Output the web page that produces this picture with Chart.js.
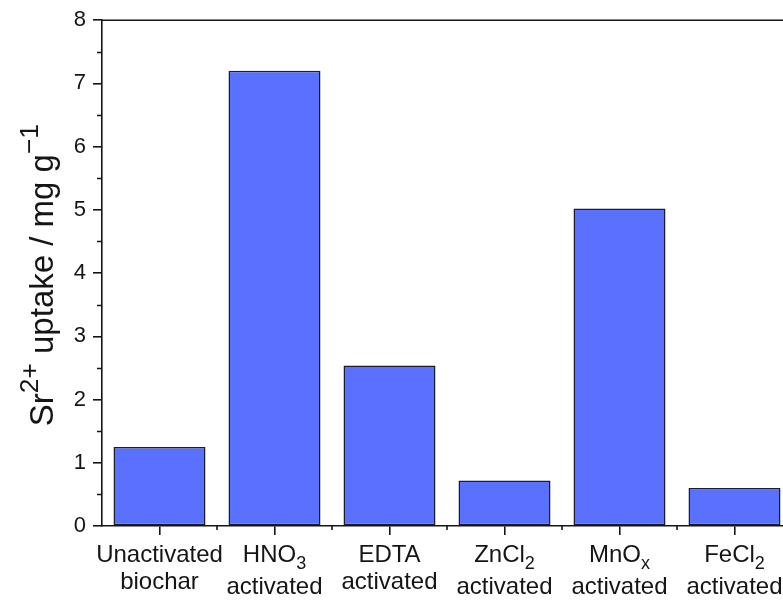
<!DOCTYPE html>
<html>
<head>
<meta charset="utf-8">
<script src="https://cdn.jsdelivr.net/npm/chart.js@4.4.1/dist/chart.umd.min.js"></script>
<style>
  html, body { margin: 0; padding: 0; background: #fff; overflow: hidden; }
  #wrap { width: 800px; height: 604px; }
</style>
</head>
<body>
<div id="wrap"><canvas id="uptakeChart" width="800" height="604"></canvas></div>
<script>
// _{..} = indice, ^{..} = exposant, \n = retour à la ligne
const categories = [
    'Unactivated\nbiochar',
    'HNO_{3}\nactivated',
    'EDTA\nactivated',
    'ZnCl_{2}\nactivated',
    'MnO_{x}\nactivated',
    'FeCl_{2}\nactivated'
];
const uptake = [1.25, 7.2, 2.54, 0.72, 5.02, 0.6];
const yMin = 0;
const yMax = 8;
const yStep = 1;
const yMinorStep = 0.5;
const yTitle = 'Sr^{2+} uptake / mg g^{\u22121}';

const ink = '#151515';
const barColor = '#5a70ff';
const fontFamily = '"Liberation Sans", Arial, sans-serif';

/**
 * Découpe une chaîne en morceaux normaux / indices / exposants
 */
function parseRich(str) {
    const parts = [];
    const re = /([_^])\{([^}]*)\}/g;
    let last = 0, m;
    while ((m = re.exec(str))) {
        if (m.index > last) parts.push({ t: str.slice(last, m.index), k: '' });
        parts.push({ t: m[2], k: m[1] });
        last = re.lastIndex;
    }
    if (last < str.length) parts.push({ t: str.slice(last), k: '' });
    return parts;
}

/**
 * Dessine un texte centré sur x, ligne de base y
 */
function drawRich(ctx, str, x, y, size, opts) {
    const o = Object.assign({ subScale: 0.75, supScale: 0.8, subDy: 0.29, supDy: 0.46 }, opts || {});
    const parts = parseRich(str);
    let total = 0;
    parts.forEach(p => {
        p.size = p.k === '_' ? size * o.subScale : p.k === '^' ? size * o.supScale : size;
        ctx.font = `${p.size}px ${fontFamily}`;
        p.w = ctx.measureText(p.t).width;
        total += p.w;
    });
    let cx = x - total / 2;
    ctx.textAlign = 'left';
    ctx.textBaseline = 'alphabetic';
    parts.forEach(p => {
        ctx.font = `${p.size}px ${fontFamily}`;
        const dy = p.k === '_' ? size * o.subDy : p.k === '^' ? -size * o.supDy : 0;
        ctx.fillText(p.t, cx, y + dy);
        cx += p.w;
    });
}

const axisDecor = {
    id: 'axisDecor',
    afterDraw(chart) {
        const { ctx, chartArea, scales } = chart;
        const xs = scales.x, ys = scales.y;
        ctx.save();
        ctx.strokeStyle = ink;
        ctx.fillStyle = ink;
        ctx.lineWidth = 1.6;

        // cadre du haut
        ctx.beginPath();
        ctx.moveTo(chartArea.left, chartArea.top);
        ctx.lineTo(chartArea.right, chartArea.top);
        ctx.stroke();

        // graduations secondaires en y
        ctx.beginPath();
        for (let v = yMin + yMinorStep; v < yMax; v += yMinorStep) {
            if (Math.abs(v % yStep) < 1e-9) continue;
            const py = Math.round(ys.getPixelForValue(v)) + 0.5;
            ctx.moveTo(chartArea.left - 5, py);
            ctx.lineTo(chartArea.left, py);
        }
        ctx.stroke();

        // graduations entre les catégories
        ctx.beginPath();
        for (let i = 0; i < categories.length; i++) {
            const px = Math.round(xs.getPixelForValue(i + 0.5));
            ctx.moveTo(px, chartArea.bottom);
            ctx.lineTo(px, chartArea.bottom + 4);
        }
        ctx.stroke();

        // étiquettes des catégories
        categories.forEach((label, i) => {
            const px = xs.getPixelForValue(i);
            const lines = label.split('\n');
            let base = chartArea.bottom + 36;
            lines.forEach((line, j) => {
                drawRich(ctx, line, px, base, 24);
                base += lines[j].includes('_{') ? 32 : 27;
            });
        });

        // titre de l'axe y
        ctx.save();
        ctx.translate(53, (chartArea.top + chartArea.bottom) / 2 + 2);
        ctx.rotate(-Math.PI / 2);
        drawRich(ctx, yTitle, 0, 0, 33);
        ctx.restore();

        ctx.restore();
    }
};

new Chart(document.getElementById('uptakeChart'), {
    type: 'bar',
    data: {
        labels: categories,
        datasets: [{
            data: uptake,
            backgroundColor: barColor,
            borderColor: '#1c1c2a',
            borderWidth: 1.5,
            borderSkipped: false,
            categoryPercentage: 1,
            barPercentage: 0.8
        }]
    },
    options: {
        responsive: false,
        animation: false,
        layout: { padding: { top: 19, right: 8, left: 0, bottom: 0 } },
        plugins: {
            legend: { display: false },
            tooltip: { enabled: false }
        },
        scales: {
            x: {
                afterFit: (scale) => { scale.height = 78; },
                grid: {
                    offset: false,
                    drawOnChartArea: false,
                    drawTicks: true,
                    tickLength: 9,
                    color: ink,
                    lineWidth: 1.6
                },
                border: { color: ink, width: 1.6 },
                ticks: { display: false }
            },
            y: {
                min: yMin,
                max: yMax,
                afterFit: (scale) => { scale.width = 102; },
                grid: {
                    drawOnChartArea: false,
                    drawTicks: true,
                    tickLength: 9,
                    color: ink,
                    lineWidth: 1.6
                },
                border: { color: ink, width: 1.6 },
                ticks: {
                    stepSize: yStep,
                    padding: 7,
                    color: ink,
                    font: { family: fontFamily, size: 22 }
                }
            }
        }
    },
    plugins: [axisDecor]
});
</script>
</body>
</html>
